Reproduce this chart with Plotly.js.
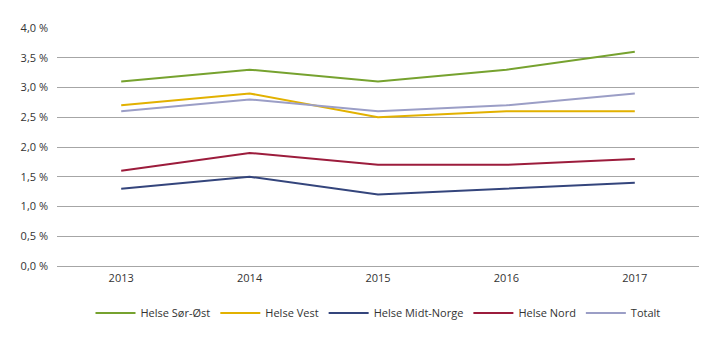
<!DOCTYPE html>
<html><head><meta charset="utf-8">
<script src="https://cdn.plot.ly/plotly-3.0.1.min.js"></script>
<style>html,body{margin:0;padding:0;background:#fff}#c{width:720px;height:341px}</style>
</head><body><div id="c"></div>
<script>
const years = ['2013','2014','2015','2016','2017'];
const seriesNames = ['Helse Sør-Øst','Helse Vest','Helse Midt-Norge','Helse Nord','Totalt'];
const sorOst = [3.1, 3.3, 3.1, 3.3, 3.6];
const vest = [2.7, 2.9, 2.5, 2.6, 2.6];
const midtNorge = [1.3, 1.5, 1.2, 1.3, 1.4];
const nord = [1.6, 1.9, 1.7, 1.7, 1.8];
const totalt = [2.6, 2.8, 2.6, 2.7, 2.9];
const colors = ['#76a22f','#e2b100','#34457c','#9c1c3c','#9b9ec6'];
const values = [sorOst, vest, midtNorge, nord, totalt];
const traces = values.map((v,i)=>({
  x: years, y: v, name: seriesNames[i], type:'scatter', mode:'lines',
  line:{color:colors[i], width:2}
}));
const layout = {
  width:720, height:341,
  margin:{l:57, r:21, t:28, b:75},
  separators:', ',
  paper_bgcolor:'#fff', plot_bgcolor:'#fff',
  font:{family:'Open Sans, sans-serif', size:11, color:'#333'},
  xaxis:{type:'category', range:[-0.5,4.5], showgrid:false, zeroline:false, showline:false, ticks:'', tickfont:{size:11,color:'#333'}, ticklabelstandoff:4},
  yaxis:{range:[0,4], dtick:0.5, tick0:0, tickformat:'.1f', ticksuffix:' %', showgrid:true, gridcolor:'#a6a6a6', gridwidth:1, zeroline:true, zerolinecolor:'#a6a6a6', zerolinewidth:1, showline:false, ticks:'', tickfont:{size:11,color:'#333'}, ticklabelstandoff:8},
  showlegend:true,
  legend:{orientation:'h', xref:'container', yref:'container', x:0.525, xanchor:'center', y:28/341, yanchor:'middle', font:{size:11,color:'#333'}, itemwidth:40, tracegroupgap:0}
};
Plotly.newPlot('c', traces, layout, {displayModeBar:false, staticPlot:true});
</script></body></html>
